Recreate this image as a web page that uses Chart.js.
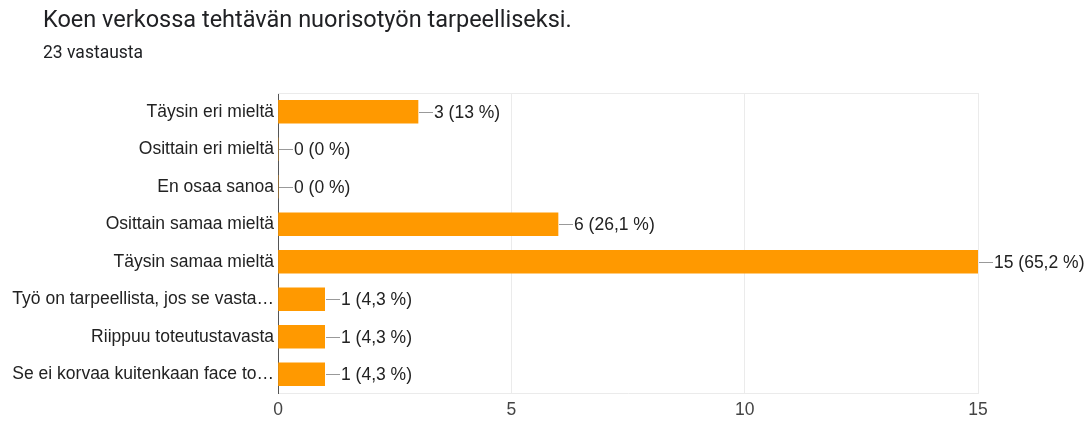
<!DOCTYPE html>
<html>
<head>
<meta charset="utf-8">
<script src="https://cdn.jsdelivr.net/npm/chart.js@4/dist/chart.umd.min.js"></script>
<style>
  body { margin: 0; background: #fff; width: 1088px; height: 424px; overflow: hidden; position: relative; }
  #title { position: absolute; left: 43px; top: 5px; font: 23.5px Roboto, sans-serif; line-height: 28px; color: #202124; white-space: nowrap; }
  #subtitle { position: absolute; left: 43px; top: 42px; font: 17.5px Roboto, sans-serif; line-height: 20px; color: #202124; }
  #wrap { position: absolute; left: 0; top: 0; width: 1088px; height: 424px; }
</style>
</head>
<body>
<div id="wrap"><canvas id="chart" width="1088" height="424"></canvas></div>
<div id="title">Koen verkossa tehtävän nuorisotyön tarpeelliseksi.</div>
<div id="subtitle">23 vastausta</div>
<script>
const categories = [
  'Täysin eri mieltä',
  'Osittain eri mieltä',
  'En osaa sanoa',
  'Osittain samaa mieltä',
  'Täysin samaa mieltä',
  'Työ on tarpeellista, jos se vasta…',
  'Riippuu toteutustavasta',
  'Se ei korvaa kuitenkaan face to…'
];
const counts = [3, 0, 0, 6, 15, 1, 1, 1];
const percents = ['13', '0', '0', '26,1', '65,2', '4,3', '4,3', '4,3'];
const xTicks = [0, 5, 10, 15];

const fontFamily = '"Liberation Sans", Arial, sans-serif';
const labelFont = '17.5px ' + fontFamily;

// draws "—3 (13 %)" next to each bar
const valueLabels = {
  id: 'valueLabels',
  afterDatasetsDraw(chart) {
    const ctx = chart.ctx;
    const meta = chart.getDatasetMeta(0);
    ctx.save();
    ctx.font = labelFont;
    ctx.textBaseline = 'middle';
    meta.data.forEach((bar, i) => {
      const x = Math.round(bar.x) + 1;
      const y = Math.round(bar.y) + 0.5;
      ctx.strokeStyle = '#999';
      ctx.lineWidth = 1;
      ctx.beginPath();
      ctx.moveTo(x, y);
      ctx.lineTo(x + 14, y);
      ctx.stroke();
      ctx.fillStyle = '#222';
      ctx.fillText(counts[i] + ' (' + percents[i] + ' %)', x + 15, y + 1);
    });
    ctx.restore();
  }
};

// light frame line at top of plot area
const topLine = {
  id: 'topLine',
  beforeDatasetsDraw(chart) {
    const a = chart.chartArea;
    const ctx = chart.ctx;
    ctx.save();
    ctx.strokeStyle = '#ebebeb';
    ctx.lineWidth = 1;
    ctx.beginPath();
    ctx.moveTo(a.left, a.top + 0.5);
    ctx.lineTo(a.right, a.top + 0.5);
    ctx.stroke();
    ctx.restore();
  }
};

new Chart(document.getElementById('chart'), {
  type: 'bar',
  data: {
    labels: categories,
    datasets: [{
      data: counts,
      backgroundColor: '#ff9900',
      barThickness: 23
    }]
  },
  options: {
    indexAxis: 'y',
    responsive: false,
    animation: false,
    layout: { padding: { top: 93, right: 110, left: 0, bottom: 0 } },
    plugins: { legend: { display: false }, tooltip: { enabled: false } },
    scales: {
      x: {
        min: 0,
        max: 15,
        afterBuildTicks(scale) { scale.ticks = xTicks.map(v => ({ value: v })); },
        afterFit(scale) { scale.height = 31; },
        grid: { color: '#ebebeb', drawTicks: false },
        border: { display: true, color: '#ebebeb' },
        ticks: { padding: 7, color: '#444', font: { family: fontFamily, size: 17.5 } }
      },
      y: {
        afterFit(scale) { scale.width = 278; },
        grid: { display: false, drawTicks: false },
        border: { display: true, color: '#555', width: 1 },
        ticks: { padding: 4, color: '#222', font: { family: fontFamily, size: 17.5 } }
      }
    }
  },
  plugins: [valueLabels, topLine]
});
</script>
</body>
</html>
